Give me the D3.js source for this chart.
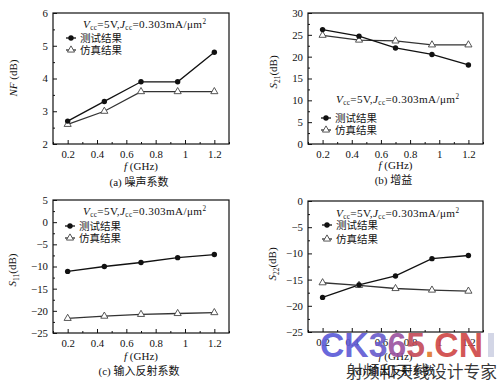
<!DOCTYPE html>
<html><head><meta charset="utf-8">
<script src="https://cdn.jsdelivr.net/npm/d3@7"></script>
<style>
body{margin:0;background:#fff;}
svg{display:block;}
text{font-family:"Liberation Serif","DejaVu Serif","Noto Sans CJK SC",serif;fill:#111;}
.cjk{font-family:"Noto Sans CJK SC",sans-serif;}
</style></head>
<body>
<svg id="c" width="500" height="381"></svg>
<script>
const freq = [0.2, 0.45, 0.7, 0.95, 1.2];
const xTicks = [0.2, 0.4, 0.6, 0.8, 1, 1.2];
const xMinor = [0.1, 0.3, 0.5, 0.7, 0.9, 1.1, 1.3];

const nfMeas = [2.7, 3.3, 3.9, 3.9, 4.8];
const nfSim  = [2.6, 3.0, 3.6, 3.6, 3.6];
const s21Meas = [26.2, 24.7, 22.0, 20.5, 18.1];
const s21Sim  = [24.9, 23.8, 23.6, 22.7, 22.7];
const s11Meas = [-11.1, -10.0, -9.1, -8.0, -7.3];
const s11Sim  = [-21.7, -21.2, -20.8, -20.6, -20.4];
const s22Meas = [-18.4, -16.0, -14.3, -11.0, -10.4];
const s22Sim  = [-15.6, -16.1, -16.7, -17.0, -17.2];

const nfTicks = [2, 3, 4, 5, 6];
const s21Ticks = [0, 5, 10, 15, 20, 25, 30];
const s11Ticks = [-25, -20, -15, -10, -5, 0, 5];
const s22Ticks = [-25, -20, -15, -10, -5, 0];

const legendLabels = ["测试结果", "仿真结果"];
const captions = ["(a) 噪声系数", "(b) 增益", "(c) 输入反射系数", "(d) 输出反射系数"];

const svg = d3.select("#c");
const fmt = v => (v < 0 ? "\u2212" + Math.abs(v) : String(v));

function halfSteps(t){ const r=[]; for(let i=0;i<t.length-1;i++) r.push((t[i]+t[i+1])/2); return r; }

function panel(cfg){
  const g = svg.append("g");
  const x = d3.scaleLinear().domain([0.1, 1.3]).range([cfg.x0, cfg.x1]);
  const y = d3.scaleLinear().domain(cfg.yDomain).range([cfg.y1, cfg.y0]);

  g.append("g").attr("transform",`translate(0,${cfg.y1})`)
    .call(d3.axisBottom(x).tickValues(xMinor).tickSize(-2).tickFormat(""))
    .call(s=>s.select(".domain").remove());
  g.append("g").attr("transform",`translate(${cfg.x0},0)`)
    .call(d3.axisLeft(y).tickValues(halfSteps(cfg.yTicks)).tickSize(-2).tickFormat(""))
    .call(s=>s.select(".domain").remove());
  const xa = g.append("g").attr("transform",`translate(0,${cfg.y1})`)
    .call(d3.axisBottom(x).tickValues(xTicks).tickSize(-4).tickPadding(6).tickFormat(d=>String(d)));
  xa.select(".domain").remove();
  const ya = g.append("g").attr("transform",`translate(${cfg.x0},0)`)
    .call(d3.axisLeft(y).tickValues(cfg.yTicks).tickSize(-4).tickPadding(5).tickFormat(fmt));
  ya.select(".domain").remove();
  g.selectAll(".tick text").attr("font-size",10.8).attr("font-family",'"Liberation Serif",serif').attr("fill","#111");
  g.selectAll(".tick line").attr("stroke","#111").attr("stroke-width",1);

  g.append("rect").attr("x",cfg.x0).attr("y",cfg.y0).attr("width",cfg.x1-cfg.x0).attr("height",cfg.y1-cfg.y0)
    .attr("fill","none").attr("stroke","#111").attr("stroke-width",1.2);

  const line = d3.line().x((d,i)=>x(freq[i])).y(d=>y(d));
  g.append("path").datum(cfg.sim).attr("d",line).attr("fill","none").attr("stroke","#333").attr("stroke-width",1.3);
  g.append("path").datum(cfg.meas).attr("d",line).attr("fill","none").attr("stroke","#111").attr("stroke-width",1.3);
  const tri = d3.symbol().type(d3.symbolTriangle).size(22);
  g.selectAll(".tri").data(cfg.sim).join("path").attr("d",tri)
    .attr("transform",(d,i)=>`translate(${x(freq[i])},${y(d)})`)
    .attr("fill","#fff").attr("stroke","#444").attr("stroke-width",0.9);
  g.selectAll(".dot").data(cfg.meas).join("circle")
    .attr("cx",(d,i)=>x(freq[i])).attr("cy",d=>y(d)).attr("r",2.7).attr("fill","#111");

  const xl = g.append("text").attr("x",(cfg.x0+cfg.x1)/2).attr("y",cfg.xlabY).attr("text-anchor","middle").attr("font-size",11);
  xl.append("tspan").attr("font-style","italic").text("f");
  xl.append("tspan").text(" (GHz)");
  g.append("text").attr("x",(cfg.x0+cfg.x1)/2 - 2).attr("y",cfg.capY).attr("text-anchor","middle").attr("font-size",11).text(cfg.caption);

  const yl = g.append("text").attr("transform",`translate(${cfg.ylX},${cfg.ylY}) rotate(-90)`).attr("text-anchor","middle").attr("font-size",11);
  if(cfg.ysub){
    yl.append("tspan").attr("font-style","italic").text("S");
    yl.append("tspan").attr("font-size",7.5).attr("dy",2.5).text(cfg.ysub);
    yl.append("tspan").attr("dy",-2.5).text("(dB)");
  } else {
    yl.append("tspan").attr("font-style","italic").text("NF");
    yl.append("tspan").text(" (dB)");
  }

  const an = g.append("text").attr("x",cfg.ax).attr("y",cfg.ay+3.5).attr("font-size",11.2).attr("letter-spacing",0.35);
  an.append("tspan").attr("font-style","italic").text("V");
  an.append("tspan").attr("font-size",7.2).attr("dy",2).text("cc");
  an.append("tspan").attr("dy",-2).text("=5V,");
  an.append("tspan").attr("font-style","italic").text("J");
  an.append("tspan").attr("font-size",7.2).attr("dy",2).text("cc");
  an.append("tspan").attr("dy",-2).text("=0.303mA/μm");
  an.append("tspan").attr("font-size",7.2).attr("dy",-4).text("2");

  [0,1].forEach(k=>{
    const ly = cfg.ly[k];
    g.append("line").attr("x1",cfg.lx).attr("x2",cfg.lx+10).attr("y1",ly).attr("y2",ly)
      .attr("stroke",k?"#333":"#111").attr("stroke-width",1.3);
    if(k===0) g.append("circle").attr("cx",cfg.lx+5).attr("cy",ly).attr("r",2.7).attr("fill","#111");
    else g.append("path").attr("d",tri).attr("transform",`translate(${cfg.lx+5},${ly})`).attr("fill","#fff").attr("stroke","#444").attr("stroke-width",0.9);
    g.append("text").attr("class","cjk").attr("x",cfg.lx+14).attr("y",ly+4).attr("font-size",10.5).text(legendLabels[k]);
  });
}

panel({x0:53,x1:229,y0:13,y1:144,yDomain:[2,6],yTicks:nfTicks,meas:nfMeas,sim:nfSim,
  xlabY:170,capY:186,caption:captions[0],ylX:17,ylY:78,ysub:null,
  ax:83,ay:24,lx:66,ly:[38,50]});
panel({x0:308,x1:483,y0:13,y1:144,yDomain:[0,30],yTicks:s21Ticks,meas:s21Meas,sim:s21Sim,
  xlabY:169,capY:184,caption:captions[1],ylX:277,ylY:72,ysub:"21",
  ax:336,ay:99,lx:321,ly:[118,130]});
panel({x0:53,x1:229,y0:200,y1:333,yDomain:[-25,5],yTicks:s11Ticks,meas:s11Meas,sim:s11Sim,
  xlabY:360,capY:375,caption:captions[2],ylX:16,ylY:270,ysub:"11",
  ax:83,ay:211,lx:65,ly:[226,238]});
panel({x0:308,x1:483,y0:201,y1:332,yDomain:[-25,0],yTicks:s22Ticks,meas:s22Meas,sim:s22Sim,
  xlabY:360,capY:375,caption:captions[3],ylX:276,ylY:264,ysub:"22",
  ax:336,ay:213,lx:322,ly:[225,239]});

// watermark
const wm = svg.append("g");
const wmText = ["C","K","3","6","5",".","C","N"];
const wmCol = ["#5a5ad8","#5f5ad4","#6a5ccc","#9a52a0","#c44a58","#e0782c","#cf4646","#cf4646"];
const wt = wm.append("text").attr("x",320).attr("y",357).attr("font-size",35).attr("font-weight","bold")
  .attr("textLength",163).attr("lengthAdjust","spacingAndGlyphs")
  .style("font-family",'"Liberation Sans",Arial,sans-serif');
wmText.forEach((c,i)=>wt.append("tspan").attr("fill",wmCol[i]).attr("fill-opacity",0.92).text(c));
wm.append("rect").attr("x",488).attr("y",333).attr("width",6).attr("height",24).attr("fill","#c8cce0").attr("opacity",0.8);
wm.append("text").attr("x",346).attr("y",378).attr("font-size",16.5).attr("fill","#7a7a7a")
  .attr("textLength",151).attr("lengthAdjust","spacingAndGlyphs")
  .style("font-family",'"Noto Sans CJK SC",sans-serif').attr("fill-opacity",0.85).text("射频和天线设计专家");
</script>
</body></html>
